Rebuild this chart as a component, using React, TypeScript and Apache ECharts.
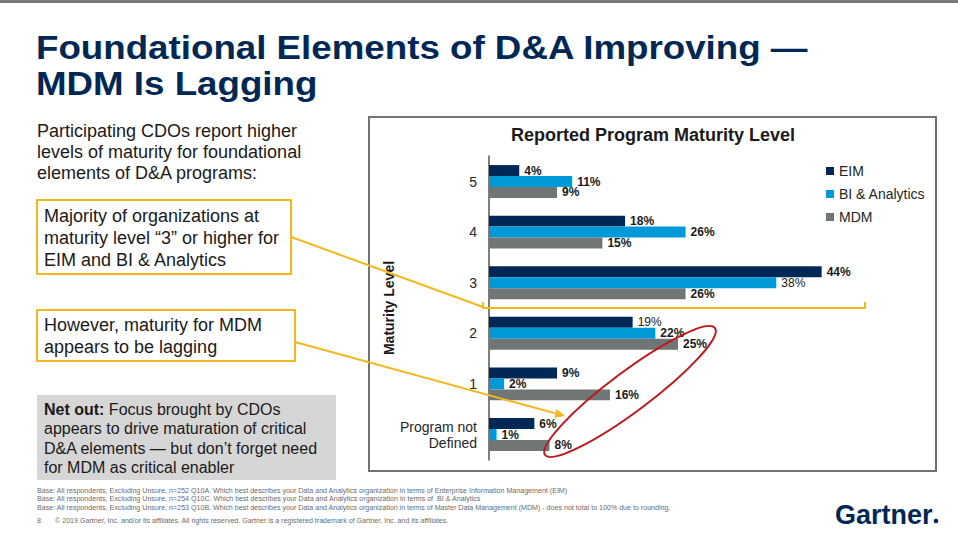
import React, { useEffect, useRef } from "react";
import * as echarts from "echarts";

// ---- data ----
const categories = ["5", "4", "3", "2", "1", "Program not\nDefined"];
const seriesNames = ["EIM", "BI & Analytics", "MDM"];
const eimValues = [4, 18, 44, 19, 9, 6];
const biValues = [11, 26, 38, 22, 2, 1];
const mdmValues = [9, 15, 26, 25, 16, 8];
// labels drawn in regular weight in the reference: [seriesIndex, categoryIndex]
const lightLabels = [
  [0, 3],
  [1, 2],
];

const titleLine1 = "Foundational Elements of D&A Improving —";
const titleLine2 = "MDM Is Lagging";
const introText =
  "Participating CDOs report higher\nlevels of maturity for foundational\nelements of D&A programs:";
const box1Text =
  "Majority of organizations at\nmaturity level “3” or higher for\nEIM and BI & Analytics";
const box2Text = "However, maturity for MDM\nappears to be lagging";
const netOutText =
  "{b|Net out:} Focus brought by CDOs\nappears to drive maturation of critical\nD&A elements — but don’t forget need\nfor MDM as critical enabler";
const footnotes = [
  "Base: All respondents, Excluding Unsure, n=252 Q10A. Which best describes your Data and Analytics organization in terms of Enterprise Information Management (EIM)",
  "Base: All respondents, Excluding Unsure, n=254 Q10C. Which best describes your Data and Analytics organization in terms of  BI & Analytics",
  "Base: All respondents, Excluding Unsure, n=253 Q10B. Which best describes your Data and Analytics organization in terms of Master Data Management (MDM) - does not total to 100% due to rounding.",
];
const pageNumber = "8";
const copyright =
  "© 2019 Gartner, Inc. and/or its affiliates. All rights reserved. Gartner is a registered trademark of Gartner, Inc. and its affiliates.";

const FONT = "'Liberation Sans', Arial, sans-serif";
const NAVY = "#002856";
const YELLOW = "#F4B81E";
const colors = [NAVY, "#0099D8", "#707576"];

function txt(x: number, y: number, text: string, o: any = {}) {
  return {
    type: "text",
    x,
    y,
    z: 50,
    scaleX: o.scaleX || 1,
    style: {
      text,
      fontFamily: FONT,
      fontSize: o.fontSize || 18,
      fontWeight: o.fontWeight || "normal",
      fill: o.fill || "#1a1a1a",
      lineHeight: o.lineHeight,
      align: o.align || "left",
      textAlign: o.align || "left",
      verticalAlign: o.va || "top",
      textVerticalAlign: o.va || "top",
      rich: o.rich,
    },
  };
}

export default function App() {
  const ref = useRef<HTMLDivElement>(null);

  useEffect(() => {
    if (!ref.current) return;
    const chart = echarts.init(ref.current, undefined, { renderer: "svg" });

    const allValues = [eimValues, biValues, mdmValues];
    const series = allValues.map((vals, si) => ({
      name: seriesNames[si],
      type: "bar",
      barGap: "0%",
      barCategoryGap: "35%",
      itemStyle: { color: colors[si] },
      label: {
        show: true,
        position: "right",
        distance: 5,
        formatter: "{c}%",
        fontFamily: FONT,
        fontSize: 12,
        fontWeight: "bold",
        color: "#1a1a1a",
      },
      data: vals.map((v, ci) =>
        lightLabels.some((p) => p[0] === si && p[1] === ci)
          ? { value: v, label: { fontWeight: "normal" } }
          : v
      ),
    }));

    // arrow head geometry for the MDM callout
    const ax0 = 295, ay0 = 342, ax1 = 565, ay1 = 416;
    const len = Math.hypot(ax1 - ax0, ay1 - ay0);
    const dx = (ax1 - ax0) / len, dy = (ay1 - ay0) / len;
    const hb = [ax1 - 10 * dx, ay1 - 10 * dy];
    const head = [
      [ax1, ay1],
      [hb[0] - 4.5 * dy, hb[1] + 4.5 * dx],
      [hb[0] + 4.5 * dy, hb[1] - 4.5 * dx],
    ];

    const foot = { fontSize: 7.1, fill: "#6b6b6b", va: "middle" };
    const titleStyle = { fontSize: 34, fontWeight: "bold", fill: NAVY, va: "middle", scaleX: 1.08 };

    const graphic: any[] = [
      { type: "rect", z: 40, shape: { x: 0, y: 0, width: 958, height: 3 }, style: { fill: "#7a7a7a" } },
      txt(36, 47, titleLine1, titleStyle),
      txt(36, 83, titleLine2, titleStyle),
      txt(37, 120, introText, { fontSize: 18, lineHeight: 21 }),
      { type: "rect", z: 40, shape: { x: 37, y: 200, width: 254, height: 74 }, style: { fill: "#fff", stroke: YELLOW, lineWidth: 2 } },
      txt(44, 205, box1Text, { fontSize: 18, lineHeight: 22 }),
      { type: "rect", z: 40, shape: { x: 37, y: 310, width: 258, height: 51 }, style: { fill: "#fff", stroke: YELLOW, lineWidth: 2 } },
      txt(44, 314, box2Text, { fontSize: 18, lineHeight: 22 }),
      { type: "rect", z: 40, shape: { x: 37, y: 395, width: 299, height: 85 }, style: { fill: "#d6d6d6" } },
      txt(44, 400, netOutText, {
        fontSize: 16,
        lineHeight: 19.3,
        rich: { b: { fontWeight: "bold", fontSize: 16, fontFamily: FONT, fill: "#1a1a1a", lineHeight: 19.3 } },
      }),
      // chart frame
      { type: "rect", z: 1, shape: { x: 369, y: 117, width: 567, height: 354 }, style: { fill: "none", stroke: "#6f7374", lineWidth: 2 } },
      txt(653, 135, "Reported Program Maturity Level", { fontSize: 18, fontWeight: "bold", align: "center", va: "middle" }),
      // yellow bracket + connector
      { type: "polyline", z: 60, shape: { points: [[483, 302], [483, 308], [865, 308], [865, 302]] }, style: { stroke: YELLOW, lineWidth: 2, fill: "none" } },
      { type: "line", z: 60, shape: { x1: 291, y1: 237, x2: 483, y2: 307 }, style: { stroke: YELLOW, lineWidth: 2 } },
      // MDM arrow
      { type: "line", z: 60, shape: { x1: ax0, y1: ay0, x2: hb[0], y2: hb[1] }, style: { stroke: YELLOW, lineWidth: 2 } },
      { type: "polygon", z: 60, shape: { points: head }, style: { fill: YELLOW } },
      // red ellipse
      {
        type: "ellipse",
        z: 70,
        x: 630,
        y: 391.5,
        rotation: 0.642,
        shape: { cx: 0, cy: 0, rx: 106, ry: 20 },
        style: { fill: "none", stroke: "#C0171D", lineWidth: 2 },
      },
      // footnotes
      txt(37, 490.5, footnotes[0], foot),
      txt(37, 499, footnotes[1], foot),
      txt(37, 507.5, footnotes[2], foot),
      txt(37, 521, pageNumber, foot),
      txt(55, 521, copyright, foot),
      txt(835, 514.5, "Gartner", { fontSize: 27, fontWeight: "bold", fill: NAVY, va: "middle" }),
      { type: "circle", z: 50, shape: { cx: 936, cy: 521, r: 2.3 }, style: { fill: NAVY } },
    ];

    chart.setOption({
      animation: false,
      textStyle: { fontFamily: FONT },
      legend: {
        data: seriesNames,
        orient: "vertical",
        left: 821,
        top: 159,
        itemWidth: 8,
        itemHeight: 8,
        itemGap: 9,
        icon: "rect",
        textStyle: { fontSize: 14, color: "#262626", fontFamily: FONT },
      },
      grid: { left: 489, top: 156.2, width: 378, height: 303.6, containLabel: false },
      xAxis: {
        type: "value",
        min: 0,
        max: 50,
        show: false,
        splitLine: { show: false },
      },
      yAxis: {
        type: "category",
        inverse: true,
        data: categories,
        axisLine: { show: true, lineStyle: { color: "#7f7f7f", width: 2 } },
        axisTick: { show: false },
        axisLabel: { fontSize: 14, color: "#262626", margin: 12, lineHeight: 16, fontFamily: FONT },
        name: "Maturity Level",
        nameLocation: "middle",
        nameGap: 85,
        nameRotate: 90,
        nameTextStyle: { fontWeight: "bold", fontSize: 14, color: "#1a1a1a", fontFamily: FONT },
      },
      series,
      graphic,
    });

    return () => chart.dispose();
  }, []);

  return (
    <div
      ref={ref}
      style={{ position: "fixed", left: 0, top: 0, width: 958, height: 548, background: "#fff" }}
    />
  );
}
